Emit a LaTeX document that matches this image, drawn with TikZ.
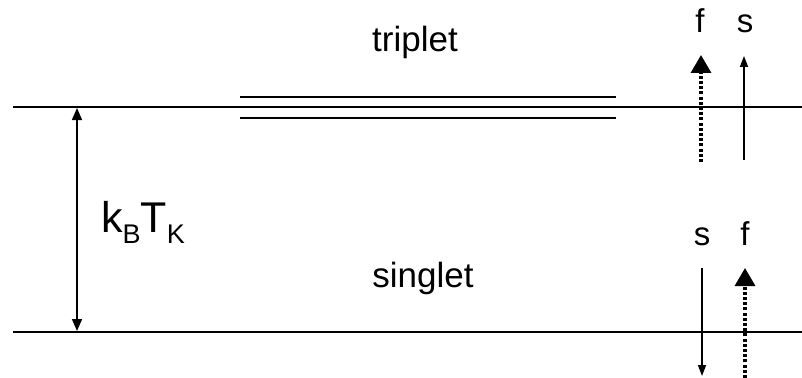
\documentclass[tikz,border=0pt]{standalone}
\usepackage{fontspec}
\setmainfont{Liberation Sans}
\usetikzlibrary{arrows.meta}
\newcommand{\mysub}[1]{\raisebox{-11pt}{\fontsize{27}{27}\selectfont #1}}
\begin{document}
\begin{tikzpicture}[x=1pt,y=-1pt,
  level/.style={line width=2pt},
  spinthin/.style={line width=1.5pt,-{Triangle[width=8pt,length=11pt]}},
  spinfat/.style={line width=3.4pt,dash pattern=on 3pt off 2.2pt,-{Triangle[width=20pt,length=18pt]}},
  lbl/.style={inner sep=0pt,font=\fontsize{33}{36}\selectfont},
  big/.style={inner sep=0pt,font=\fontsize{35}{38}\selectfont}]
\useasboundingbox (0,0) rectangle (802,377);
% levels
\coordinate (tl) at (13,107); \coordinate (tr) at (802,107);
\coordinate (bl) at (13,332); \coordinate (br) at (802,332);
\draw[level] (tl) -- (tr);
\draw[level] (bl) -- (br);
\coordinate (t1l) at (240,97); \coordinate (t1r) at (616,97);
\coordinate (t2l) at (240,118); \coordinate (t2r) at (616,118);
\draw[level] (t1l) -- (t1r);
\draw[level] (t2l) -- (t2r);
% energy gap
\coordinate (ga) at (77,108); \coordinate (gb) at (77,331);
\draw[line width=1.5pt,{Triangle[width=10pt,length=12pt]}-{Triangle[width=10pt,length=12pt]}] (ga) -- (gb);
\node[inner sep=0pt,anchor=base west,font=\fontsize{43}{46}\selectfont] (kt) at (101,232) {k\mysub{B}T\mysub{K}};
% labels
\node[big,anchor=base] (trip) at (415,52) {triplet};
\node[big,anchor=base] (sing) at (423,287) {singlet};
% upper spins
\coordinate (f1a) at (701,162); \coordinate (f1b) at (701,55);
\coordinate (s1a) at (744,160); \coordinate (s1b) at (744,56);
\draw[spinfat] (f1a) -- (f1b);
\draw[spinthin] (s1a) -- (s1b);
\node[lbl,anchor=base] (f1) at (700,33) {f};
\node[lbl,anchor=base] (s1) at (745,33) {s};
% lower spins
\coordinate (s2a) at (702,268); \coordinate (s2b) at (702,376);
\coordinate (f2a) at (745,378); \coordinate (f2b) at (745,268);
\draw[spinthin] (s2a) -- (s2b);
\draw[spinfat] (f2a) -- (f2b);
\node[lbl,anchor=base] (s2) at (702,245) {s};
\node[lbl,anchor=base] (f2) at (745,245) {f};
\end{tikzpicture}
\end{document}
